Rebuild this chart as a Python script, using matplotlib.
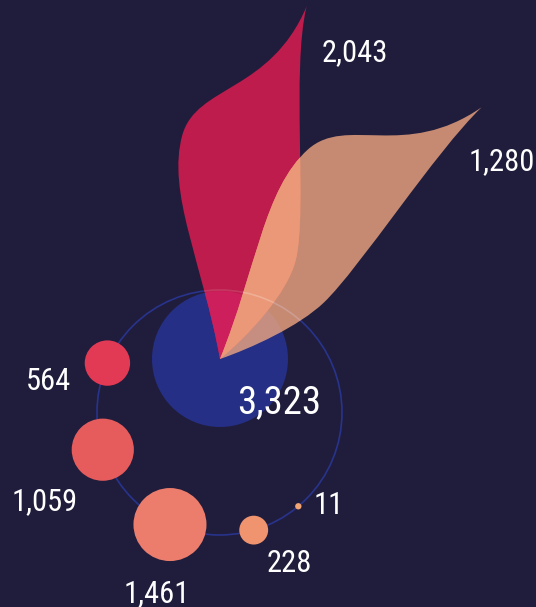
import numpy as np
import matplotlib.pyplot as plt
from matplotlib.path import Path
from matplotlib.patches import PathPatch, Circle

plt.rcParams['font.family'] = ['Roboto Condensed', 'Roboto', 'DejaVu Sans']

# data
total_value = 3323
petal_values = [2043, 1280]
petal_colors = ['#bd1c4c', '#f5aa81']
bubble_values = [564, 1059, 1461, 228, 11]
bubble_colors = ['#e23a55', '#e65c5d', '#ec7d6c', '#ef946f', '#f2a572']

# layout (pixel space, y down)
W, H = 536, 607
bg = '#201d3c'
hub = (220, 359)
hub_r = 68
hub_color = '#252f85'
ring_c = (219.5, 412.5)
ring_r = 122.5
ring_color = '#28338c'
petal_angles = [13.8, 46.1]   # degrees clockwise from straight up
petal_len = 363
petal_label_off = [(48, 55), (20.5, 63)]
bubble_scale = 0.955
bubble_gap = 33
bubble_start = 156.2
bubble_label_off = [(-58.5, 27), (-58.3, 60), (-13, 77.5), (36, 42), (30.8, 7.7)]


def petal_path(value, vmax, angle):
    k = value / vmax
    # local shape: u along the petal (0..365), v sideways (left positive)
    left = [(0, 0), (90, 40), (150, 92), (210, 90),
            (262, 88), (272, 15), (365, 0)]
    right = [(300, 0), (165, -50), (115, -50),
             (80, -50), (30, -22), (0, 0)]
    pts = left + [(u, v * k) for u, v in right]
    a = np.radians(angle)
    e = np.array([np.sin(a), -np.cos(a)])
    n = np.array([-np.cos(a), -np.sin(a)])
    s = petal_len / 365
    xy = [np.array(hub) + u * s * e + v * n for u, v in pts]
    codes = [Path.MOVETO] + [Path.CURVE4] * (len(xy) - 1)
    return Path(xy, codes), np.array(hub) + petal_len * e


fig = plt.figure(figsize=(W / 100, H / 100), dpi=100, facecolor=bg)
ax = fig.add_axes([0, 0, 1, 1])
ax.set_xlim(0, W)
ax.set_ylim(H, 0)
ax.set_aspect('equal')
ax.axis('off')
ax.set_facecolor(bg)

ax.add_patch(Circle(ring_c, ring_r, fill=False, ec=ring_color, lw=1.2, zorder=1))

# bubbles around the ring
radii = bubble_scale * np.sqrt(bubble_values)
angles = [bubble_start]
for i in range(1, len(radii)):
    step = 2 * np.arcsin((radii[i - 1] + radii[i] + bubble_gap) / (2 * ring_r))
    angles.append(angles[-1] + np.degrees(step))

for val, r, ang, col, off in zip(bubble_values, radii, angles, bubble_colors, bubble_label_off):
    cx = ring_c[0] + ring_r * np.cos(np.radians(ang))
    cy = ring_c[1] - ring_r * np.sin(np.radians(ang))
    ax.add_patch(Circle((cx, cy), r, color=col, lw=0, zorder=2))
    ax.text(cx + off[0], cy + off[1], f'{val:,}', color='white', fontsize=22,
            ha='center', va='baseline', zorder=6)

hub_patch = Circle(hub, hub_r, color=hub_color, lw=0, zorder=2)
ax.add_patch(hub_patch)

# petals
vmax = max(petal_values)
first = None
for i, (val, col, ang, off) in enumerate(zip(petal_values, petal_colors, petal_angles, petal_label_off)):
    path, tip = petal_path(val, vmax, ang)
    alpha = 1.0 if i == 0 else 0.78
    p = PathPatch(path, fc=col, ec='none', alpha=alpha, zorder=3 + i)
    ax.add_patch(p)
    if i == 0:
        first = p
        # brighter where the first petal sits on the hub
        inner = PathPatch(path, fc='#cc1f5c', ec='none', zorder=3.5)
        ax.add_patch(inner)
        inner.set_clip_path(hub_patch)
    else:
        # the overlap of the two petals is lighter
        over = PathPatch(path, fc='#ea9877', ec='none', zorder=4.5)
        ax.add_patch(over)
        over.set_clip_path(first)
    glow = Circle(ring_c, ring_r, fill=False, ec='white', lw=1.2, alpha=0.12, zorder=5)
    ax.add_patch(glow)
    glow.set_clip_path(p)
    ax.text(tip[0] + off[0], tip[1] + off[1], f'{val:,}', color='white', fontsize=22,
            ha='center', va='baseline', zorder=6)

ax.text(hub[0] + 59, hub[1] + 54, f'{total_value:,}', color='white', fontsize=28,
        ha='center', va='baseline', zorder=6)

fig.savefig('out.png', dpi=100, facecolor=bg)
